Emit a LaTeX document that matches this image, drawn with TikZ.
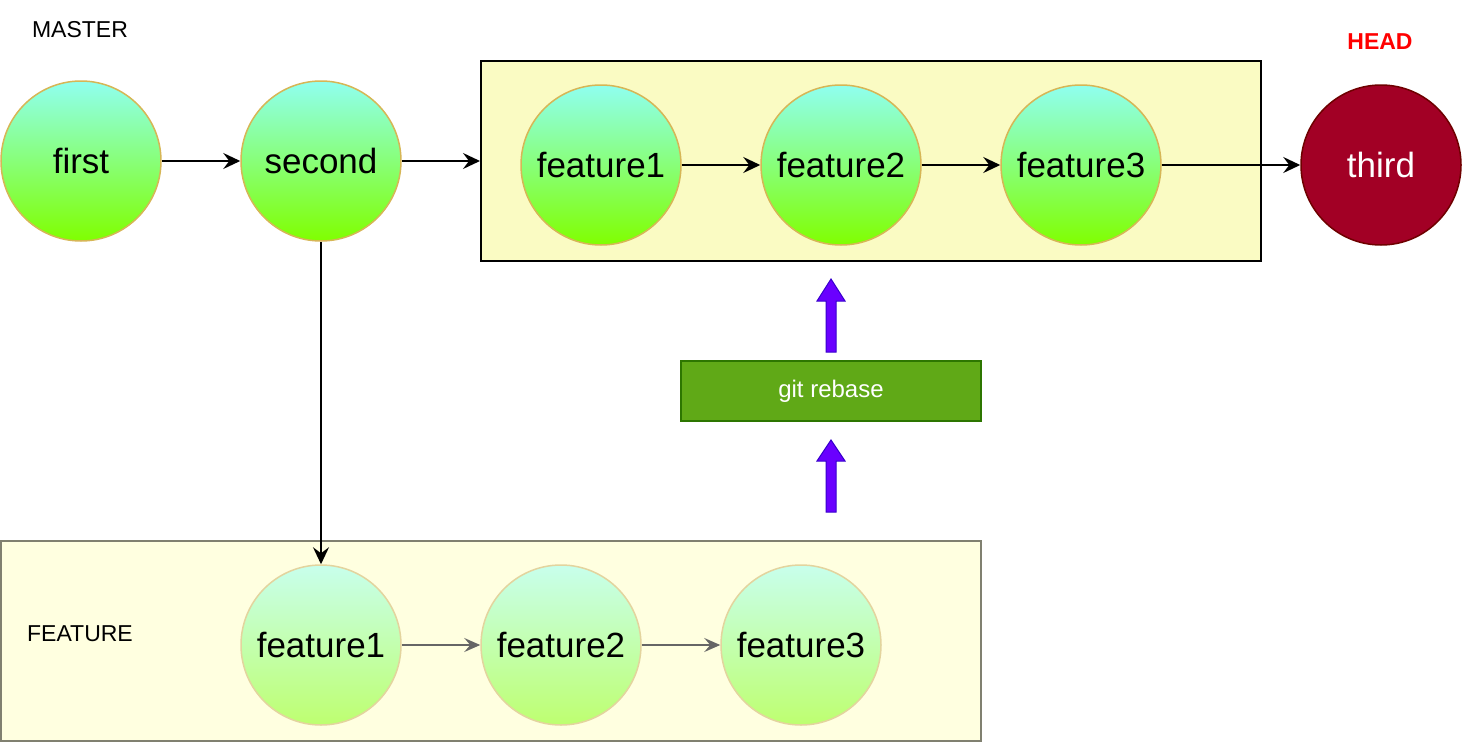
\documentclass[tikz,border=0pt]{standalone}
\usepackage{fontspec}
\setmainfont{Liberation Sans}
\usetikzlibrary{arrows.meta}
\definecolor{ctop}{HTML}{90FFF0}
\definecolor{cbot}{HTML}{80FF00}
\definecolor{cedge}{HTML}{D6B656}
\definecolor{ltop}{HTML}{C8FFEC}
\definecolor{lbot}{HTML}{BEFF70}
\definecolor{ledge}{HTML}{E3D49E}
\definecolor{topfill}{HTML}{FAFBC3}
\definecolor{botfill}{HTML}{FFFFE0}
\definecolor{botedge}{HTML}{808070}
\definecolor{headred}{HTML}{A20025}
\definecolor{headedge}{HTML}{6F0000}
\definecolor{gitfill}{HTML}{60A917}
\definecolor{gitedge}{HTML}{2D7600}
\definecolor{purplefill}{HTML}{6A00FF}
\definecolor{purpleedge}{HTML}{3700CC}
\definecolor{greyline}{HTML}{666666}
\tikzset{
  commit/.style={circle, minimum size=160pt, inner sep=0pt, line width=1.5pt,
    draw=cedge, top color=ctop, bottom color=cbot,
    font=\fontsize{35}{40}\selectfont},
  lightcommit/.style={circle, minimum size=160pt, inner sep=0pt, line width=1.5pt,
    draw=ledge, top color=ltop, bottom color=lbot,
    font=\fontsize{35}{40}\selectfont},
  headcommit/.style={circle, minimum size=160pt, inner sep=0pt, line width=1.5pt,
    draw=headedge, fill=headred, text=white,
    font=\fontsize{35}{40}\selectfont},
  link/.style={line width=2pt, -{Stealth[length=17pt,width=16pt,inset=6pt]}},
  greylink/.style={line width=1.5pt, greyline, -{Stealth[length=16pt,width=14pt,inset=6pt]}},
  label/.style={font=\fontsize{23}{27}\selectfont},
  blockarrow/.style={fill=purplefill, draw=purpleedge, line width=1pt, line join=miter},
}
\begin{document}
\begin{tikzpicture}[x=1pt,y=-1pt]
\useasboundingbox (0,0) rectangle (1462,742);

% branch containers
\node[draw=black, line width=2pt, fill=topfill, minimum width=780pt, minimum height=200pt,
  inner sep=0pt] (topbox) at (871,161) {};
\node[draw=botedge, line width=2pt, fill=botfill, minimum width=980pt, minimum height=200pt,
  inner sep=0pt] (botbox) at (491,641) {};

% labels
\node[label] (master) at (80,30) {MASTER};
\node[label, text=red, font=\fontsize{23}{27}\selectfont\bfseries] (head) at (1380,42) {HEAD};
\node[label] (feat) at (80,634) {FEATURE};

% master commits
\node[commit] (first) at (81,161) {first};
\node[commit] (second) at (321,161) {second};
\node[commit] (tf1) at (601,165) {feature1};
\node[commit] (tf2) at (841,165) {feature2};
\node[commit] (tf3) at (1081,165) {feature3};
\node[headcommit] (third) at (1381,165) {third};

% feature commits
\node[lightcommit] (bf1) at (321,645) {feature1};
\node[lightcommit] (bf2) at (561,645) {feature2};
\node[lightcommit] (bf3) at (801,645) {feature3};

% rebase box
\node[draw=gitedge, line width=2pt, fill=gitfill, text=white, minimum width=300pt,
  minimum height=60pt, inner sep=0pt, font=\fontsize{24}{28}\selectfont] (rebase) at (831,391) {git rebase};

% history links
\draw[link] (first) -- (second);
\draw[link] (second.east) -- (second.east -| topbox.west);
\draw[link] (tf1) -- (tf2);
\draw[link] (tf2) -- (tf3);
\draw[link] (tf3) -- (third);
\draw[link] (second.south) -- (bf1.north);
\draw[greylink] (bf1) -- (bf2);
\draw[greylink] (bf2) -- (bf3);

% rebase direction arrows
\draw[blockarrow] (826,352) -- (826,301) -- (817,301) -- (831,279) -- (845,301) -- (836,301) -- (836,352) -- cycle;
\draw[blockarrow] (826,512) -- (826,461) -- (817,461) -- (831,440) -- (845,461) -- (836,461) -- (836,512) -- cycle;
\end{tikzpicture}
\end{document}
